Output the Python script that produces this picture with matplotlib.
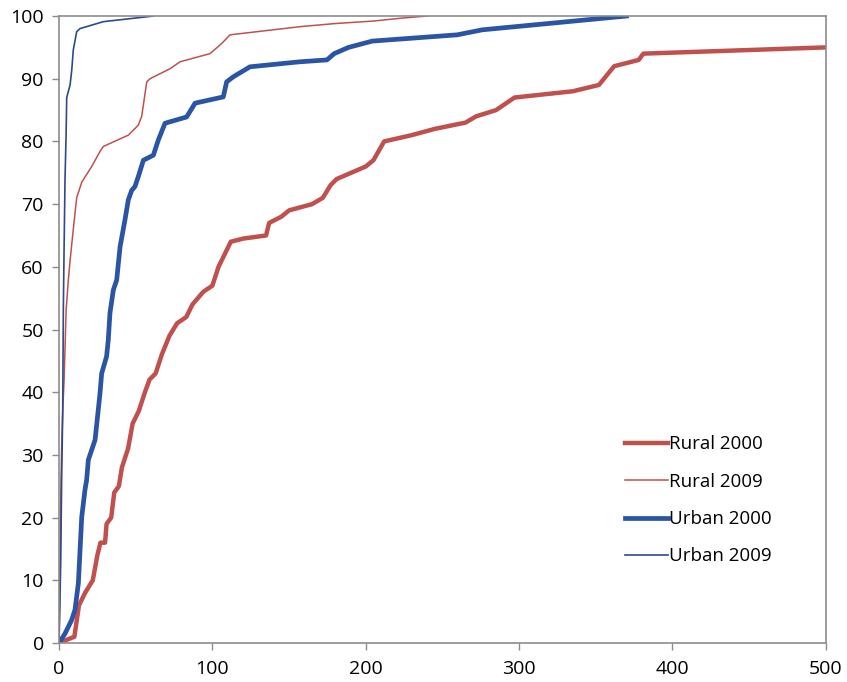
import matplotlib
matplotlib.use('Agg')
import matplotlib.pyplot as plt

plt.rcParams['font.family'] = ['Open Sans', 'DejaVu Sans']

# cumulative share (%) against distance
rural_2000_x = [0, 10, 13, 17, 22, 25, 27, 30, 31, 34, 36, 39, 41, 45, 48, 52, 56, 59, 63, 67,
                72, 77, 83, 87, 94, 100, 104, 108, 112, 120, 135, 137, 145, 150, 165, 172, 177,
                181, 200, 205, 212, 230, 245, 265, 272, 285, 297, 335, 352, 362, 378, 381, 500]
rural_2000_y = [0, 1, 6, 8, 10, 14, 16, 16, 19, 20, 24, 25, 28, 31, 35, 37, 40, 42, 43, 46,
                49, 51, 52, 54, 56, 57, 60, 62, 64, 64.5, 65, 67, 68, 69, 70, 71, 73,
                74, 76, 77, 80, 81, 82, 83, 84, 85, 87, 88, 89, 92, 93, 94, 95]

rural_2009_x = [0, 0.5, 1, 1.3, 1.7, 2.4, 3.3, 3.9, 4.6, 6.1, 7.2, 9.3, 11.5, 14.8, 21.3, 26.7,
                28.9, 45.2, 51.7, 53.9, 57.2, 59.3, 72.4, 78.9, 98.4, 106, 111.5, 157, 180, 205,
                225, 240]
rural_2009_y = [0, 8, 20, 26, 31, 37, 42, 47, 53, 58, 61, 66, 71, 73.5, 76, 78.4,
                79.2, 81, 82.6, 84, 89.5, 90, 91.6, 92.7, 94, 95.6, 97, 98.3, 98.8, 99.2,
                99.7, 100]

urban_2000_x = [0, 3.9, 8.3, 10.4, 12.6, 13.7, 14.8, 16.9, 18, 19.1, 23.5, 26.7, 27.8, 31, 32.1,
                33.2, 35.4, 37.6, 39.8, 43, 45.2, 47.4, 49.5, 51.7, 55, 61.5, 64.7, 69.1, 83.2,
                88.7, 107.1, 109.3, 113.6, 124.5, 157, 174.7, 179.4, 188.8, 204.2, 259.6, 276,
                370]
urban_2000_y = [0, 1.5, 3.7, 5.3, 9.5, 14.8, 20.1, 24.4, 26, 29.2, 32.4, 39.8, 43, 45.7, 48.3,
                52.6, 56.3, 57.9, 63.2, 67.5, 70.7, 72.2, 72.8, 74.4, 77, 77.8, 80.2, 82.9, 83.9,
                86.1, 87.1, 89.5, 90.3, 91.9, 92.7, 93, 94, 95, 96, 97, 97.8,
                100]

urban_2009_x = [0, 1.1, 1.7, 2.4, 2.8, 3.3, 3.9, 4.6, 5, 7.2, 8.3, 9.3, 11.5, 13.7, 28.9, 61.5]
urban_2009_y = [0, 13, 26, 37, 53, 63, 74, 81, 87, 89, 91.4, 94.6, 97.5, 98, 99.1, 100]

red = '#C0504D'
blue = '#2A55A4'
navy = '#2E4A8C'

fig = plt.figure(figsize=(8.47, 6.82), dpi=100)
ax = fig.add_axes([0.0697, 0.0572, 0.9053, 0.9193])

ax.plot(rural_2000_x, rural_2000_y, color=red, lw=3.2, label='Rural 2000', solid_joinstyle='round')
ax.plot(rural_2009_x, rural_2009_y, color=red, lw=1.1, label='Rural 2009')
ax.plot(urban_2000_x, urban_2000_y, color=blue, lw=3.4, label='Urban 2000', solid_joinstyle='round')
ax.plot(urban_2009_x, urban_2009_y, color=navy, lw=1.2, label='Urban 2009')

ax.set_xlim(0, 500)
ax.set_ylim(0, 100)
ax.set_xticks(range(0, 501, 100))
ax.set_yticks(range(0, 101, 10))

for s in ax.spines.values():
    s.set_color('#8C8C8C')
    s.set_linewidth(1.2)
ax.tick_params(direction='out', length=5, width=1, color='#8C8C8C',
               labelsize=14, labelcolor='black')
ax.tick_params(axis='x', pad=7)
ax.tick_params(axis='y', pad=6)

ax.legend(loc='upper left', bbox_to_anchor=(0.738, 0.331), frameon=False, fontsize=13.5,
          handlelength=2.3, handletextpad=0.05, borderpad=0, borderaxespad=0,
          labelspacing=1.03)

fig.savefig('out.png', dpi=100)
